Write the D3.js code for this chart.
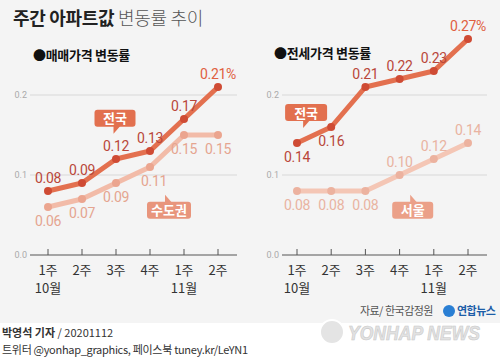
<!DOCTYPE html>
<html>
<head>
<meta charset="utf-8">
<script src="https://cdn.jsdelivr.net/npm/d3@7"></script>
<style>
  body { margin: 0; background: #fff; }
  svg { display: block; font-family: "Noto Sans CJK KR", "Noto Sans", sans-serif; }
</style>
</head>
<body>
<svg id="chart"></svg>
<script>
// data
const weeks = ['1주', '2주', '3주', '4주', '1주', '2주'];
const months = ['10월', '', '', '', '11월', ''];
const yTicks = [0, 0.1, 0.2];

const saleNational = [0.08, 0.09, 0.12, 0.13, 0.17, 0.21];
const saleCapital = [0.06, 0.07, 0.09, 0.11, 0.15, 0.15];
const jeonseNational = [0.14, 0.16, 0.21, 0.22, 0.23, 0.27];
const jeonseSeoul = [0.08, 0.08, 0.08, 0.10, 0.12, 0.14];

// label placement (up / down of the point)
const saleNationalPos = ['up', 'up', 'up', 'up', 'up', 'up'];
const saleCapitalPos = ['down', 'down', 'down', 'down', 'down', 'down'];
const jeonseNationalPos = ['down', 'down', 'up', 'up', 'up', 'up'];
const jeonseSeoulPos = ['down', 'down', 'down', 'up', 'up', 'up'];

const W = 500, H = 362;
const svg = d3.select('#chart').attr('width', W).attr('height', H);

svg.append('rect').attr('width', W).attr('height', 323).attr('fill', '#f4f4f4');

// title
const title = svg.append('text').attr('x', 13).attr('y', 25).attr('font-size', 18).attr('letter-spacing', -0.3);
title.append('tspan').text('주간 아파트값').attr('font-weight', 700).attr('fill', '#222');
title.append('tspan').text(' 변동률 추이').attr('font-weight', 300).attr('fill', '#555');

const yscale = d3.scaleLinear().domain([0, 0.2]).range([255, 95]);

function panel(opt) {
    const g = svg.append('g');
    const xscale = d3.scalePoint().domain(d3.range(weeks.length)).range(opt.xrange);
    // position between two categories
    const xAt = t => {
        const a = Math.floor(t), b = Math.ceil(t);
        return xscale(a) + (xscale(b) - xscale(a)) * (t - a);
    };

    g.append('text')
        .attr('x', opt.subX).attr('y', opt.subY)
        .attr('font-size', 13).attr('font-weight', 700).attr('fill', '#111')
        .attr('letter-spacing', -0.3)
        .text('●' + opt.subtitle);

    // grid
    g.selectAll('.grid').data(yTicks.filter(d => d > 0)).join('line')
        .attr('x1', opt.axisRange[0]).attr('x2', opt.axisRange[1])
        .attr('y1', d => yscale(d)).attr('y2', d => yscale(d))
        .attr('stroke', '#d8d8d8').attr('stroke-width', 1);
    g.selectAll('.ylab').data(yTicks).join('text')
        .attr('x', opt.axisRange[0] - 3).attr('y', d => yscale(d) + 3)
        .attr('text-anchor', 'end').attr('font-size', 9).attr('fill', '#aaa')
        .attr('font-family', 'Roboto, sans-serif')
        .text(d => d.toFixed(1));

    // x axis
    g.append('line')
        .attr('x1', opt.axisRange[0]).attr('x2', opt.axisRange[1])
        .attr('y1', yscale(0)).attr('y2', yscale(0))
        .attr('stroke', '#555').attr('stroke-width', 1);
    g.selectAll('.tick').data(weeks).join('line')
        .attr('x1', (d, i) => xscale(i)).attr('x2', (d, i) => xscale(i))
        .attr('y1', yscale(0) - 6).attr('y2', yscale(0))
        .attr('stroke', '#555');
    g.selectAll('.wk').data(weeks).join('text')
        .attr('x', (d, i) => xscale(i)).attr('y', yscale(0) + 20)
        .attr('text-anchor', 'middle').attr('font-size', 13).attr('fill', '#333')
        .text(d => d);
    g.selectAll('.mo').data(months).join('text')
        .attr('x', (d, i) => xscale(i)).attr('y', yscale(0) + 38)
        .attr('text-anchor', 'middle').attr('font-size', 13).attr('fill', '#333')
        .text(d => d);

    const line = d3.line().x((d, i) => xscale(i)).y(d => yscale(d));

    opt.series.forEach(s => {
        g.append('path')
            .attr('d', line(s.values))
            .attr('fill', 'none').attr('stroke', s.line)
            .attr('stroke-width', 5).attr('stroke-linejoin', 'round').attr('stroke-linecap', 'round');
        g.selectAll(null).data(s.values).join('circle')
            .attr('cx', (d, i) => xscale(i)).attr('cy', d => yscale(d))
            .attr('r', 4).attr('fill', s.dot);
        g.selectAll(null).data(s.values).join('text')
            .attr('x', (d, i) => xscale(i) + (s.dx ? s.dx[i] : 0))
            .attr('y', (d, i) => yscale(d) + (s.pos[i] === 'up' ? -8 : 19))
            .attr('text-anchor', 'middle').attr('font-size', 14)
            .attr('font-family', 'Roboto, sans-serif').attr('letter-spacing', -0.3)
            .attr('fill', (d, i) => (s.last && i === s.values.length - 1) ? s.last : s.text)
            .text((d, i) => d.toFixed(2) + ((s.last && i === s.values.length - 1) ? '%' : ''));

        // callout box
        const c = s.callout;
        const cx = xAt(c.at) + c.dx, cy = yscale(c.value);
        const bw = c.w, bh = 17;
        const bx = cx - bw / 2, by = cy - bh / 2;
        let tail;
        if (c.tail === 'down') {
            tail = [[bx + c.tx, by + bh - 1], [bx + c.tx + 7, by + bh - 1], [bx + c.tx, by + bh + 7]];
        } else {
            tail = [[bx + c.tx, by + 1], [bx + c.tx + 7, by + 1], [bx + c.tx, by - 7]];
        }
        g.append('path').attr('d', d3.line()(tail) + 'Z').attr('fill', c.fill);
        g.append('rect')
            .attr('x', bx).attr('y', by).attr('width', bw).attr('height', bh)
            .attr('rx', 3).attr('fill', c.fill);
        g.append('text')
            .attr('x', cx).attr('y', cy + 5)
            .attr('text-anchor', 'middle').attr('font-size', 13).attr('font-weight', 700)
            .attr('fill', '#fff').text(c.label);
    });
}

panel({
    subtitle: '매매가격 변동률', subX: 33, subY: 60,
    xrange: [48, 218], axisRange: [30, 237],
    series: [
        { values: saleCapital, pos: saleCapitalPos, line: '#f2bba8', dot: '#eba58f', text: '#e5a590',
          dx: [0, 0, 0, 4, 0, 0],
          callout: { label: '수도권', at: 3.5, dx: 2, value: 0.056, w: 44, tail: 'up', tx: 18, fill: '#e8957c' } },
        { values: saleNational, pos: saleNationalPos, line: '#e3704f', dot: '#cf4b34', text: '#b9473a', last: '#e0603f',
          callout: { label: '전국', at: 2, dx: -1, value: 0.171, w: 41, tail: 'down', tx: 19, fill: '#e2704f' } }
    ]
});

panel({
    subtitle: '전세가격 변동률', subX: 274, subY: 58,
    xrange: [297, 468], axisRange: [282, 487],
    series: [
        { values: jeonseSeoul, pos: jeonseSeoulPos, line: '#f4c6b5', dot: '#ecb29f', text: '#e9b3a1',
          callout: { label: '서울', at: 3.5, dx: -4, value: 0.056, w: 41, tail: 'up', tx: 18, fill: '#eba088' } },
        { values: jeonseNational, pos: jeonseNationalPos, line: '#e3704f', dot: '#cf4b34', text: '#b9473a', last: '#e0603f',
          callout: { label: '전국', at: 0.5, dx: -8, value: 0.178, w: 42, tail: 'down', tx: 18, fill: '#e2704f' } }
    ]
});

// footer
svg.append('text').attr('x', 433).attr('y', 315).attr('text-anchor', 'end')
    .attr('font-size', 11).attr('fill', '#555').attr('letter-spacing', -0.5).text('자료/ 한국감정원');
svg.append('circle').attr('cx', 449).attr('cy', 311).attr('r', 6).attr('fill', '#2a7fd4');
svg.append('text').attr('x', 457).attr('y', 315).attr('font-size', 11).attr('font-weight', 700)
    .attr('fill', '#1d5ea8').attr('letter-spacing', -0.5).text('연합뉴스');

// watermark
svg.append('circle').attr('cx', 332).attr('cy', 332).attr('r', 12)
    .attr('fill', '#e4e4e4').attr('stroke', '#fff').attr('stroke-width', 2);
svg.append('text').attr('x', 348).attr('y', 340).attr('font-size', 20).attr('font-weight', 900)
    .attr('font-style', 'italic').attr('font-family', 'Liberation Sans, sans-serif')
    .attr('fill', '#e2e2e2').attr('stroke', '#c8c8c8').attr('stroke-width', 0.6)
    .attr('textLength', 132).attr('lengthAdjust', 'spacingAndGlyphs').text('YONHAP NEWS');

svg.append('text').attr('x', 2).attr('y', 337).attr('font-size', 11).attr('fill', '#333')
    .html('<tspan font-weight="700">박영석 기자</tspan> / 20201112');
svg.append('text').attr('x', 2).attr('y', 354).attr('font-size', 11).attr('fill', '#333')
    .attr('letter-spacing', -0.3).text('트위터 @yonhap_graphics, 페이스북 tuney.kr/LeYN1');
</script>
</body>
</html>
